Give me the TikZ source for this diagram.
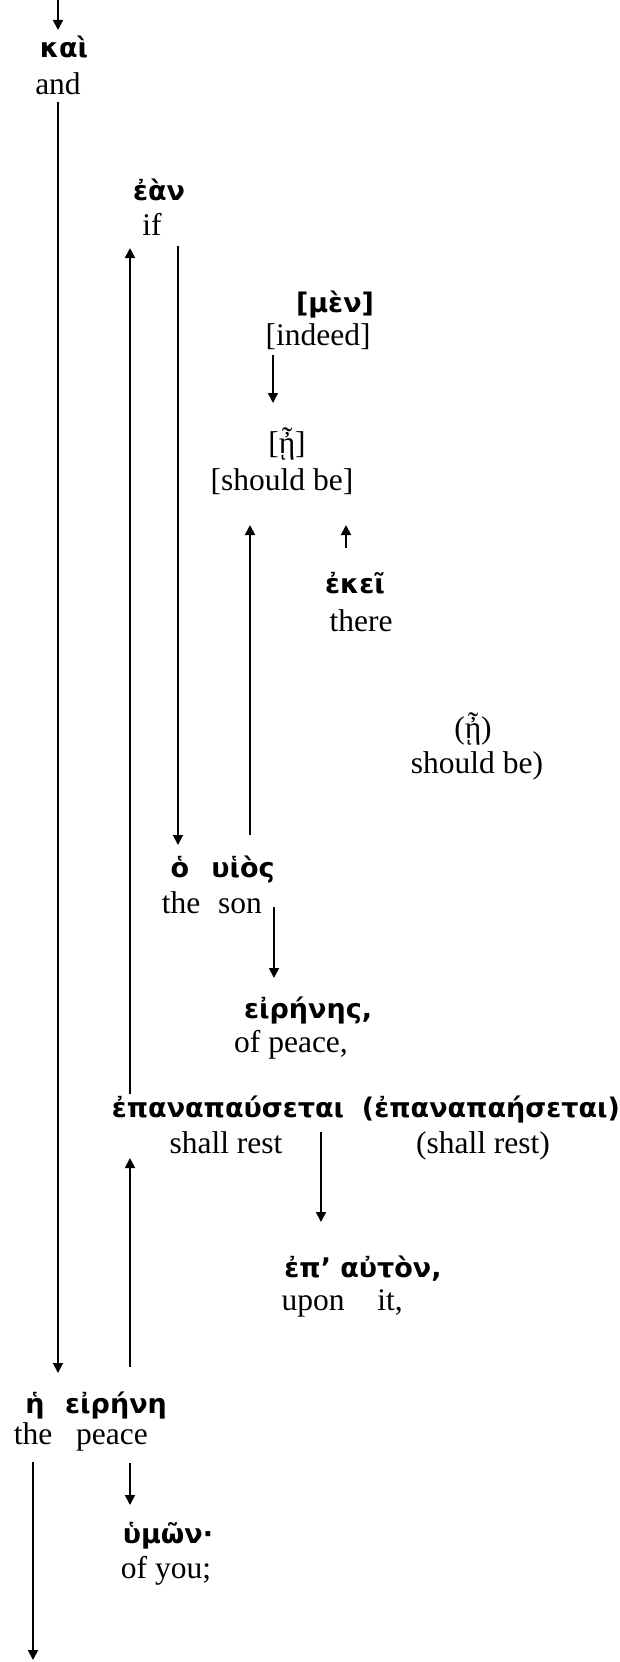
\documentclass[tikz,border=0pt]{standalone}
\usepackage{fontspec}
\setmainfont{Liberation Serif}
\newfontfamily\gk{DejaVu Sans}[BoldFont={DejaVu Sans Bold}]
\usetikzlibrary{arrows.meta}
\begin{document}
\begin{tikzpicture}[x=1pt,y=-1pt,
  en/.style={anchor=base,inner sep=0pt,font=\fontsize{31.5}{36}\selectfont},
  gr/.style={anchor=base,inner sep=0pt,font=\fontsize{27}{31}\gk\bfseries},
  arr/.style={line width=1.8pt,-{Triangle[length=10pt,width=10pt]}}]
\useasboundingbox (0,0) rectangle (619,1662);
% nodes
\node[gr] (kai) at (64,58) {καὶ};
\node[en] (and) at (58,94) {and};
\node[gr] (ean) at (159,200) {ἐὰν};
\node[en] (if) at (152,235) {if};
\node[gr] (men) at (335,312) {[μὲν]};
\node[en] (indeed) at (318,345) {[indeed]};
\node[en] (eta1) at (287,453) {[ᾖ]};
\node[en] (shb1) at (282,490) {[should be]};
\node[gr] (ekei) at (355,593) {ἐκεῖ};
\node[en] (there) at (361,631) {there};
\node[en] (eta2) at (473,738) {(ᾖ)};
\node[en] (shb2) at (477,773) {should be)};
\node[gr] (ho) at (180,877) {ὁ};
\node[gr] (huios) at (243,877) {υἱὸς};
\node[en] (the1) at (181,913) {the};
\node[en] (son) at (240,913) {son};
\node[gr] (eirenes) at (308,1018) {εἰρήνης,};
\node[en] (ofpeace) at (291,1052) {of peace,};
\node[gr] (epana) at (228,1117) {ἐπαναπαύσεται};
\node[gr] (epana2) at (491,1117) {(ἐπαναπαήσεται)};
\node[en] (rest) at (226,1153) {shall rest};
\node[en] (rest2) at (483,1153) {(shall rest)};
\node[gr] (epauton) at (363,1277) {ἐπ’ αὐτὸν,};
\node[en] (upon) at (313,1310) {upon};
\node[en] (it) at (390,1310) {it,};
\node[gr] (he) at (35,1413) {ἡ};
\node[gr] (eirene) at (116,1413) {εἰρήνη};
\node[en] (the2) at (33,1444) {the};
\node[en] (peace) at (112,1444) {peace};
\node[gr] (hymon) at (168,1543) {ὑμῶν·};
\node[en] (ofyou) at (166,1578) {of you;};
% column coordinates
\coordinate (top) at (58,0);
\coordinate (bot) at (33,1660);
\coordinate (c33) at (33,0);
\coordinate (c58) at (58,0);
\coordinate (c130) at (130,0);
\coordinate (c178) at (178,0);
\coordinate (c250) at (250,0);
\coordinate (c273) at (273,0);
\coordinate (c274) at (274,0);
\coordinate (c321) at (321,0);
\coordinate (c346) at (346,0);
% connectors
\draw[arr] (top) -- (c58 |- 0,30);
\draw[arr] (c58 |- 0,102) -- (c58 |- 0,1373);
\draw[arr] (c130 |- 0,1094) -- (c130 |- 0,248);
\draw[arr] (c178 |- 0,246) -- (c178 |- 0,845);
\draw[arr] (c273 |- 0,355) -- (c273 |- 0,403);
\draw[arr] (c250 |- 0,835) -- (c250 |- 0,525);
\draw[arr] (c346 |- 0,548) -- (c346 |- 0,525);
\draw[arr] (c274 |- 0,907) -- (c274 |- 0,978);
\draw[arr] (c321 |- 0,1132) -- (c321 |- 0,1222);
\draw[arr] (c130 |- 0,1367) -- (c130 |- 0,1158);
\draw[arr] (c130 |- 0,1463) -- (c130 |- 0,1505);
\draw[arr] (c33 |- 0,1462) -- (bot);
\end{tikzpicture}
\end{document}
